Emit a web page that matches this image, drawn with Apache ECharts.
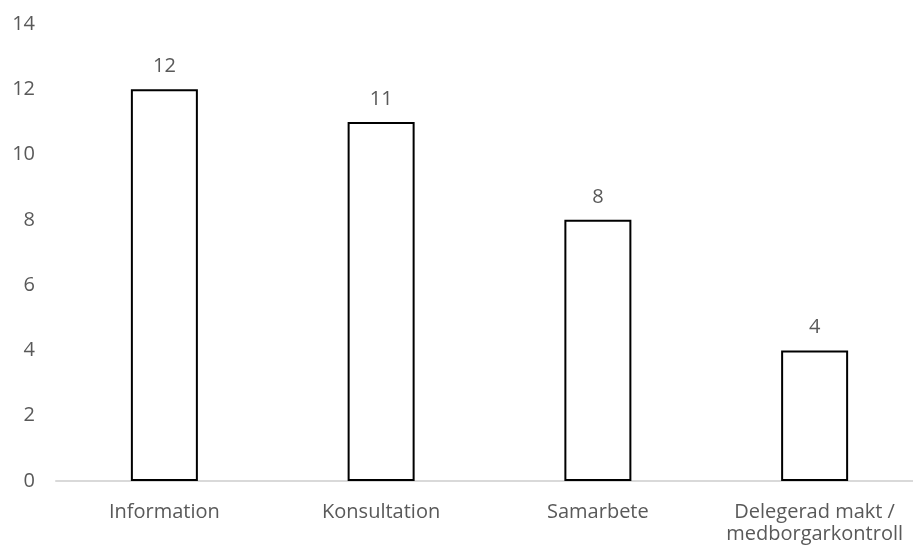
<!DOCTYPE html>
<html>
<head>
<meta charset="utf-8">
<script src="https://cdn.jsdelivr.net/npm/echarts@6/dist/echarts.min.js"></script>
<style>
  html, body { margin: 0; padding: 0; background: #ffffff; overflow: hidden; }
  /* the plot area runs a little past the right edge of the window */
  #chart { width: 935px; height: 554px; }
</style>
</head>
<body>
<div id="chart"></div>
<script>
// Participation levels and counts
const categories = ['Information', 'Konsultation', 'Samarbete', 'Delegerad makt /\nmedborgarkontroll'];
const counts = [12, 11, 8, 4];
const yTicks = { min: 0, max: 14, interval: 2 };

const textColor = '#595959';
const fontFamily = '"Open Sans", "Noto Sans", sans-serif';

const chart = echarts.init(document.getElementById('chart'));
chart.setOption({
  animation: false,
  grid: { left: 56, top: 24, width: 867, height: 457 },
  xAxis: {
    type: 'category',
    data: categories,
    axisLine: { show: true, lineStyle: { color: '#d9d9d9', width: 2 } },
    axisTick: { show: false },
    axisLabel: {
      interval: 0,
      hideOverlap: false,
      color: textColor,
      fontFamily: fontFamily,
      fontSize: 20,
      margin: 20,
      lineHeight: 22
    }
  },
  yAxis: {
    type: 'value',
    min: yTicks.min,
    max: yTicks.max,
    interval: yTicks.interval,
    axisLine: { show: false },
    axisTick: { show: false },
    splitLine: { show: false },
    axisLabel: { color: textColor, fontFamily: fontFamily, fontSize: 20, margin: 21 }
  },
  series: [{
    type: 'bar',
    data: counts,
    barWidth: 67,
    itemStyle: { color: '#ffffff', borderColor: '#000000', borderWidth: 2 },
    label: {
      show: true,
      position: 'top',
      distance: 13,
      color: textColor,
      fontFamily: fontFamily,
      fontSize: 20
    }
  }]
});
</script>
</body>
</html>
